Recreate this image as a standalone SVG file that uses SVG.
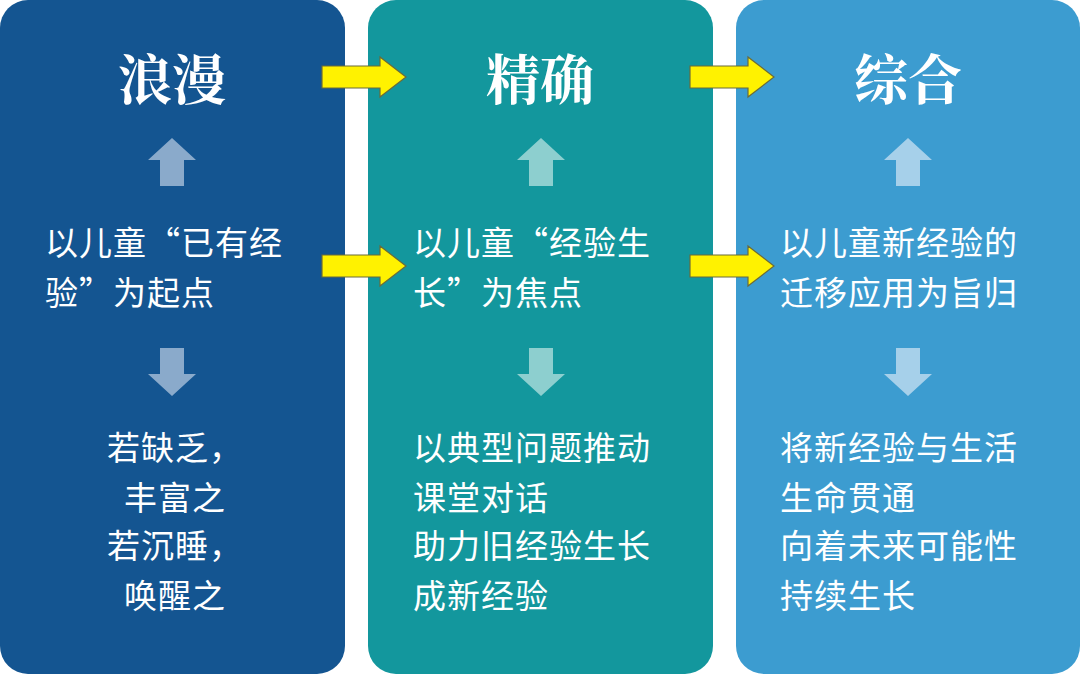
<svg xmlns="http://www.w3.org/2000/svg" width="1080" height="674" viewBox="0 0 1080 674">
<style>
.t{font-family:"Noto Serif CJK SC","Noto Sans CJK SC",serif;font-weight:bold;font-size:54px;fill:#fff;text-anchor:middle}
.b{font-family:"Noto Sans CJK SC",sans-serif;font-size:33px;fill:#fff;letter-spacing:1px}
.c{text-anchor:middle}
.y{fill:#FFF200;stroke:#6B6B3A;stroke-width:1.2}
</style>
<defs>
<path id="up" d="M0,-24 L24,-2 L12,-2 L12,24 L-12,24 L-12,-2 L-24,-2 Z"/>
<path id="dn" d="M0,24 L24,2 L12,2 L12,-24 L-12,-24 L-12,2 L-24,2 Z"/>
<path id="ya" d="M0,-11 L58,-11 L58,-20 L84,0 L58,20 L58,11 L0,11 Z"/>
</defs>
<g id="p1">
<rect x="0" y="0" width="345" height="674" rx="28" fill="#145591"/>
<text class="t" x="172" y="100">浪漫</text>
<use href="#up" x="172" y="162" fill="#8AAACB"/>
<text class="b" x="45" y="255">以儿童“已有经</text>
<text class="b" x="45" y="305">验”为起点</text>
<use href="#dn" x="172" y="372" fill="#8AAACB"/>
<text class="b c" x="175" y="460">若缺乏，</text>
<text class="b c" x="175" y="510">丰富之</text>
<text class="b c" x="175" y="558">若沉睡，</text>
<text class="b c" x="175" y="608">唤醒之</text>
</g>
<g id="p2">
<rect x="368" y="0" width="345" height="674" rx="28" fill="#13979D"/>
<text class="t" x="540" y="100">精确</text>
<use href="#up" x="541" y="162" fill="#8DCFCF"/>
<text class="b" x="413" y="255">以儿童“经验生</text>
<text class="b" x="413" y="305">长”为焦点</text>
<use href="#dn" x="541" y="372" fill="#8DCFCF"/>
<text class="b" x="413" y="460">以典型问题推动</text>
<text class="b" x="413" y="510">课堂对话</text>
<text class="b" x="413" y="558">助力旧经验生长</text>
<text class="b" x="413" y="608">成新经验</text>
</g>
<g id="p3">
<rect x="736" y="0" width="344" height="674" rx="28" fill="#3C9CD0"/>
<text class="t" x="908" y="100">综合</text>
<use href="#up" x="908" y="162" fill="#A6D0EA"/>
<text class="b" x="780" y="255">以儿童新经验的</text>
<text class="b" x="780" y="305">迁移应用为旨归</text>
<use href="#dn" x="908" y="372" fill="#A6D0EA"/>
<text class="b" x="780" y="460">将新经验与生活</text>
<text class="b" x="780" y="510">生命贯通</text>
<text class="b" x="780" y="558">向着未来可能性</text>
<text class="b" x="780" y="608">持续生长</text>
</g>
<g id="connectors">
<use href="#ya" class="y" x="322" y="77"/>
<use href="#ya" class="y" x="322" y="266"/>
<use href="#ya" class="y" x="690" y="77"/>
<use href="#ya" class="y" x="690" y="266"/>
</g>
</svg>
